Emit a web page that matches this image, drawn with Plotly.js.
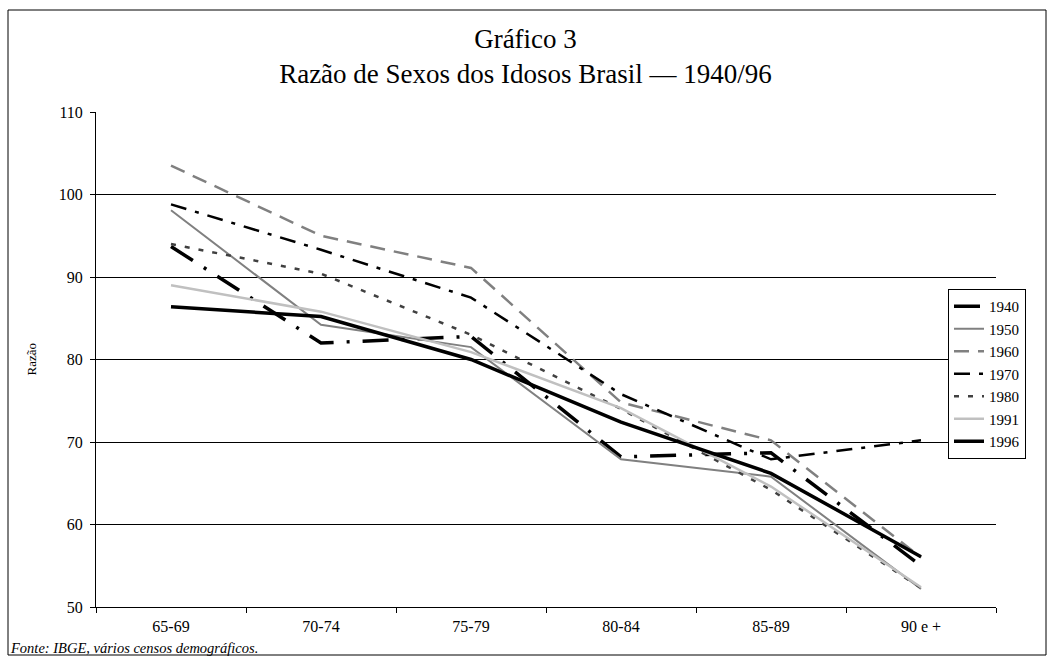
<!DOCTYPE html>
<html>
<head>
<meta charset="utf-8">
<script src="https://cdn.plot.ly/plotly-3.0.1.min.js"></script>
<style>
  html, body { margin: 0; padding: 0; background: #fff; }
  #chart { width: 1051px; height: 662px; }
</style>
</head>
<body>
<div id="chart"></div>
<script>
const categories = ["65-69", "70-74", "75-79", "80-84", "85-89", "90 e +"];
const yearLabels = ["1940", "1950", "1960", "1970", "1980", "1991", "1996"];
const s1940 = [93.7, 82.0, 82.8, 68.2, 68.7, 55.0];
const s1950 = [98.1, 84.2, 81.5, 67.9, 65.8, 52.2];
const s1960 = [103.5, 95.0, 91.1, 74.8, 70.2, 56.0];
const s1970 = [98.8, 93.3, 87.5, 75.8, 67.9, 70.2];
const s1980 = [94.0, 90.4, 83.0, 74.0, 64.2, 52.3];
const s1991 = [89.0, 85.8, 80.9, 74.1, 64.6, 52.4];
const s1996 = [86.4, 85.2, 80.0, 72.4, 66.2, 56.1];
const yTicks = [50, 60, 70, 80, 90, 100, 110];

const seriesData = [s1940, s1950, s1960, s1970, s1980, s1991, s1996];
const styles = [
  {color: "#000000", width: 3.5, dash: "26px,13px,3px,13px"},
  {color: "#808080", width: 2, dash: "solid"},
  {color: "#808080", width: 2.5, dash: "15px,9px"},
  {color: "#000000", width: 2.5, dash: "16px,9px,4px,9px"},
  {color: "#404040", width: 2.5, dash: "5px,9px"},
  {color: "#c0c0c0", width: 2.5, dash: "solid"},
  {color: "#000000", width: 3.5, dash: "solid"}
];

const traces = seriesData.map((vals, i) => ({
  type: "scatter",
  mode: "lines",
  name: yearLabels[i],
  x: categories,
  y: vals,
  line: styles[i],
  hoverinfo: "x+y+name"
}));

const L = 96, R = 55, T = 112, B = 55, W = 1051, H = 662;
const pw = W - L - R, ph = H - T - B;
const px = v => (v - L) / pw;
const py = v => (H - B - v) / ph;

const font = "Times New Roman, Liberation Serif, serif";

const layout = {
  width: W, height: H,
  margin: {l: L, r: R, t: T, b: B},
  paper_bgcolor: "#ffffff",
  plot_bgcolor: "#ffffff",
  font: {family: font, color: "#000", size: 15},
  title: {
    text: "Gráfico 3<br>Razão de Sexos dos Idosos Brasil — 1940/96",
    font: {family: font, size: 27, color: "#000"},
    x: 0.5, xanchor: "center",
    yref: "container", y: 1 - 48 / H, yanchor: "middle"
  },
  xaxis: {
    type: "category",
    range: [-0.5, 5.5],
    showline: true, linecolor: "#000", linewidth: 1,
    ticks: "outside", tickson: "boundaries", ticklen: 5, tickcolor: "#000",
    showgrid: false, zeroline: false,
    tickfont: {family: font, size: 16, color: "#000"},
    ticklabelstandoff: 5,
    fixedrange: true
  },
  yaxis: {
    range: [50, 110],
    tickvals: yTicks,
    ticktext: yTicks.map(String),
    showline: true, linecolor: "#000", linewidth: 1,
    ticks: "outside", ticklen: 5, tickcolor: "#000",
    showgrid: true, gridcolor: "#000", gridwidth: 1,
    zeroline: false,
    tickfont: {family: font, size: 16, color: "#000"},
    ticklabelstandoff: 4,
    fixedrange: true
  },
  showlegend: true,
  legend: {
    x: px(948), xanchor: "left",
    y: py(289), yanchor: "top",
    bgcolor: "#ffffff",
    bordercolor: "#000", borderwidth: 1,
    font: {family: font, size: 15, color: "#000"},
    tracegroupgap: 0,
    itemwidth: 30
  },
  annotations: [
    {
      text: "Razão", xref: "paper", yref: "paper",
      x: px(31), y: 0.5, xanchor: "center", yanchor: "middle",
      textangle: -90, showarrow: false,
      font: {family: font, size: 13, color: "#000"}
    },
    {
      text: "<i>Fonte: IBGE, vários censos demográficos.</i>",
      xref: "paper", yref: "paper",
      x: px(8), y: py(648), xanchor: "left", yanchor: "middle",
      showarrow: false,
      font: {family: font, size: 14.5, color: "#000"}
    }
  ],
  shapes: [
    {
      type: "rect", xref: "paper", yref: "paper",
      x0: px(8), x1: px(1046), y0: py(655), y1: py(10),
      line: {color: "#000", width: 1}, fillcolor: "rgba(0,0,0,0)",
      layer: "below"
    }
  ]
};

Plotly.newPlot("chart", traces, layout, {displayModeBar: false});
</script>
</body>
</html>
